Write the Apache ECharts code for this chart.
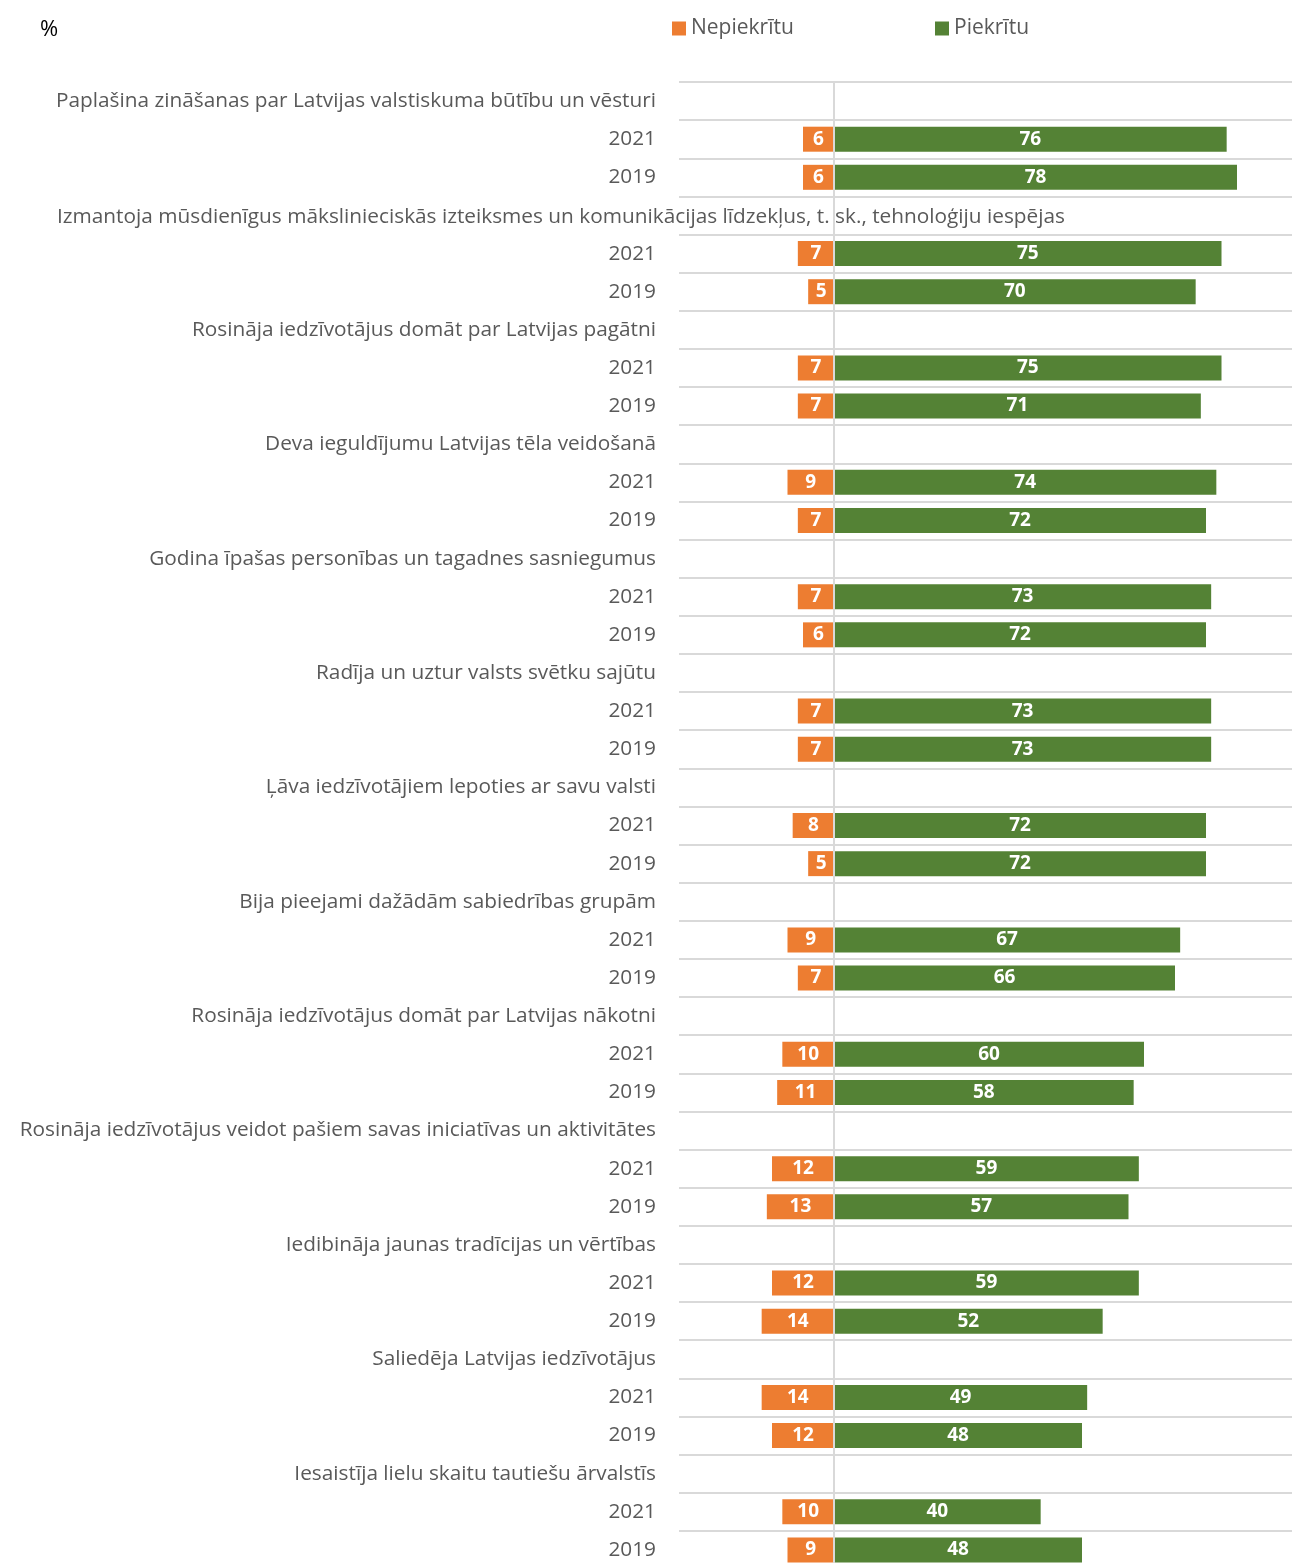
<!DOCTYPE html>
<html>
<head>
<meta charset="utf-8">
<script src="https://cdn.jsdelivr.net/npm/echarts@6/dist/echarts.min.js"></script>
<style>
html,body{margin:0;padding:0;background:#fff;}
#chart{width:1292px;height:1563px;}
</style>
</head>
<body>
<div id="chart"></div>
<script>
const groups = [
  "Paplašina zināšanas par Latvijas valstiskuma būtību un vēsturi",
  "Izmantoja mūsdienīgus mākslinieciskās izteiksmes un komunikācijas līdzekļus, t. sk., tehnoloģiju iespējas",
  "Rosināja iedzīvotājus domāt par Latvijas pagātni",
  "Deva ieguldījumu Latvijas tēla veidošanā",
  "Godina īpašas personības un tagadnes sasniegumus",
  "Radīja un uztur valsts svētku sajūtu",
  "Ļāva iedzīvotājiem lepoties ar savu valsti",
  "Bija pieejami dažādām sabiedrības grupām",
  "Rosināja iedzīvotājus domāt par Latvijas nākotni",
  "Rosināja iedzīvotājus veidot pašiem savas iniciatīvas un aktivitātes",
  "Iedibināja jaunas tradīcijas un vērtības",
  "Saliedēja Latvijas iedzīvotājus",
  "Iesaistīja lielu skaitu tautiešu ārvalstīs"
];
const years = ["2021", "2019"];
const disagree2021 = [6, 7, 7, 9, 7, 7, 8, 9, 10, 12, 12, 14, 10];
const disagree2019 = [6, 5, 7, 7, 6, 7, 5, 7, 11, 13, 14, 12, 9];
const agree2021 = [76, 75, 75, 74, 73, 73, 72, 67, 60, 59, 59, 49, 40];
const agree2019 = [78, 70, 71, 72, 72, 73, 72, 66, 58, 57, 52, 48, 48];
const seriesNames = ["Nepiekrītu", "Piekrītu"];
// header label that overflows to the right in the original (left-aligned at the text column start)
const overflowGroupIndex = 1;

const categories = [];
const disagreeData = [];
const agreeData = [];
groups.forEach((g, i) => {
  categories.push(g); disagreeData.push('-'); agreeData.push('-');
  categories.push(years[0]); disagreeData.push(-disagree2021[i]); agreeData.push(agree2021[i]);
  categories.push(years[1]); disagreeData.push(-disagree2019[i]); agreeData.push(agree2019[i]);
});
const overflowCatIndex = overflowGroupIndex * 3;

const FONT = 'Open Sans';
const TXT = '#595959';
const LABEL_SIZE = 20.8;
const chart = echarts.init(document.getElementById('chart'));
chart.setOption({
  animation: false,
  textStyle: { fontFamily: FONT },
  legend: [
    { data: [seriesNames[0]], left: 667, top: 13, icon: 'rect', itemWidth: 14, itemHeight: 14, itemGap: 0,
      textStyle: { color: TXT, fontSize: 21, fontFamily: FONT } },
    { data: [seriesNames[1]], left: 930, top: 13, icon: 'rect', itemWidth: 14, itemHeight: 14, itemGap: 0,
      textStyle: { color: TXT, fontSize: 21, fontFamily: FONT } }
  ],
  grid: { left: 679, top: 82, width: 620, height: 1487, containLabel: false, outerBoundsMode: 'none' },
  xAxis: {
    type: 'value', min: -30, max: 90,
    axisLine: { show: false }, axisTick: { show: false }, axisLabel: { show: false },
    splitLine: { show: false }
  },
  yAxis: {
    type: 'category', inverse: true, data: categories,
    axisLine: { show: false }, axisTick: { show: false },
    axisLabel: { color: TXT, fontSize: LABEL_SIZE, fontFamily: FONT, margin: 23, interval: 0,
      padding: [3, 0, 0, 0],
      formatter: (v, idx) => idx === overflowCatIndex ? '' : v },
    splitLine: { show: true, interval: 0, lineStyle: { color: '#D9D9D9', width: 2 } }
  },
  series: [
    {
      name: seriesNames[0], type: 'bar', stack: 'a', data: disagreeData, barWidth: 25,
      itemStyle: { color: '#ED7D31' },
      label: { show: true, position: 'inside', color: '#fff', fontWeight: 'bold', fontSize: 19, fontFamily: FONT,
        formatter: p => Math.abs(p.value) },
      markLine: {
        silent: true, symbol: 'none', label: { show: false },
        lineStyle: { color: '#D9D9D9', width: 2, type: 'solid' },
        data: [{ xAxis: 0 }]
      }
    },
    {
      name: seriesNames[1], type: 'bar', stack: 'a', data: agreeData, barWidth: 25,
      itemStyle: { color: '#548235' },
      label: { show: true, position: 'inside', color: '#fff', fontWeight: 'bold', fontSize: 19, fontFamily: FONT }
    }
  ]
});

const yOverflow = chart.convertToPixel({ yAxisIndex: 0 }, overflowCatIndex);
chart.setOption({
  graphic: [
    {
      type: 'text', left: 40, top: 19,
      style: { text: '%', fontSize: 22, fill: '#000', fontFamily: FONT }
    },
    {
      type: 'text', x: 57, y: yOverflow + 1.5, z: 10,
      style: { text: categories[overflowCatIndex], fontSize: LABEL_SIZE, fill: TXT, fontFamily: FONT,
        align: 'left', verticalAlign: 'middle' }
    }
  ]
});
</script>
</body>
</html>
